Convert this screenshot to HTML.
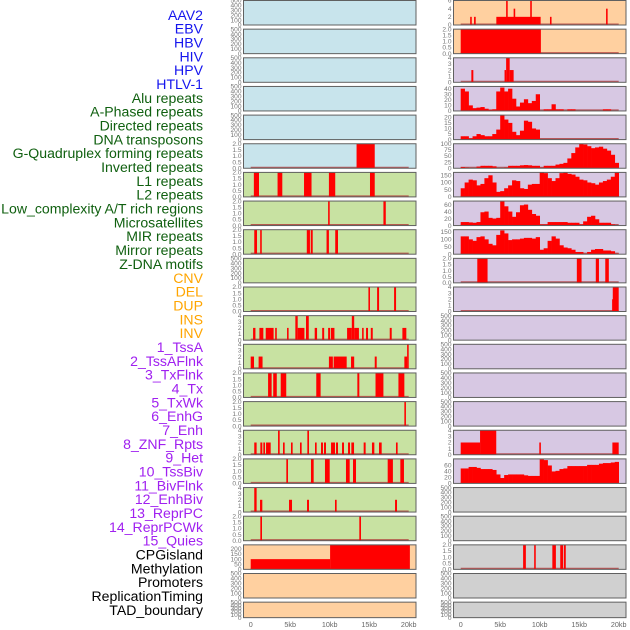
<!DOCTYPE html>
<html><head><meta charset="utf-8"><style>
body{margin:0;background:#fff;width:630px;height:630px;overflow:hidden}
svg{display:block}
</style></head><body>
<svg id="chart" width="630" height="630" xmlns="http://www.w3.org/2000/svg" font-family="Liberation Sans, sans-serif"></svg>
<script>
// ---- labels ----
const trackLabels=["AAV2","EBV","HBV","HIV","HPV","HTLV-1","Alu repeats","A-Phased repeats","Directed repeats","DNA transposons","G-Quadruplex forming repeats","Inverted repeats","L1 repeats","L2 repeats","Low_complexity A/T rich regions","Microsatellites","MIR repeats","Mirror repeats","Z-DNA motifs","CNV","DEL","DUP","INS","INV","1_TssA","2_TssAFlnk","3_TxFlnk","4_Tx","5_TxWk","6_EnhG","7_Enh","8_ZNF_Rpts","9_Het","10_TssBiv","11_BivFlnk","12_EnhBiv","13_ReprPC","14_ReprPCWk","15_Quies","CPGisland","Methylation","Promoters","ReplicationTiming","TAD_boundary"];
const labelGroups=["v","v","v","v","v","v","r","r","r","r","r","r","r","r","r","r","r","r","r","c","c","c","c","c","h","h","h","h","h","h","h","h","h","h","h","h","h","h","h","k","k","k","k","k"];
const xTicks=[0,5,10,15,20];
const xTickLabels=["0","5kb","10kb","15kb","20kb"];
// ---- bar data [startKb,endKb,value] ----
const leftG4Bars=[[13.4,15.7,2]];
const leftInvertedBars=[[0.4,1.05,2],[3.4,4.0,2],[6.75,7.7,2],[9.9,10.7,2],[15.1,15.7,2]];
const leftL2Bars=[[9.8,10.0,2],[16.8,17.1,2]];
const leftMicroBars=[[0.45,0.8,2],[1.2,1.4,2],[7.1,7.5,2],[7.6,7.85,2],[9.6,9.9,2],[10.7,11.05,2]];
const leftZdnaBars=[[14.9,15.1,2],[16.0,16.25,2],[18.15,18.4,2]];
const leftCnvBars=[[0.3,0.6,2],[1.1,1.6,2],[1.9,2.9,2],[3.1,3.3,2],[4.6,4.8,2],[5.65,5.95,4],[5.95,6.8,2],[7.0,7.35,4],[8.1,8.4,2],[9.05,9.3,2],[9.8,10.05,2],[10.15,10.6,2],[12.2,12.8,2],[12.8,13.1,4],[13.1,13.7,2],[14.1,14.3,2],[14.6,14.85,2],[15.2,15.45,2],[17.6,17.85,2],[19.2,19.7,2]];
const leftDelBars=[[0.0,0.42,2],[1.0,1.5,2],[9.9,10.4,2],[10.5,12.15,2],[12.7,13.1,2],[15.7,15.95,2],[19.45,19.8,2],[19.8,20.0,4]];
const leftDupBars=[[2.2,2.65,2],[2.85,3.3,2],[3.8,4.5,2],[8.3,8.85,2],[13.5,13.75,2],[15.8,16.8,2],[18.7,19.45,2]];
const leftInsBars=[[19.45,19.65,2]];
const leftInvBars=[[0.45,0.75,2],[1.22,1.47,2],[1.6,1.81,2],[1.94,2.53,2],[3.46,3.67,4],[4.09,4.3,2],[5.1,5.31,2],[6.24,6.45,2],[7.17,7.38,4],[8.14,8.35,2],[8.9,9.15,2],[9.28,9.53,2],[10.17,10.67,2],[10.8,11.05,2],[11.56,11.81,2],[12.32,12.57,2],[12.74,13.08,2],[14.3,14.55,2],[15.35,15.65,2],[16.24,16.58,2],[18.39,18.6,2]];
const leftTssABars=[[4.51,4.72,2],[7.63,7.97,2],[9.4,10.0,2],[12.06,12.53,2],[12.95,13.33,2],[17.34,18.0,2],[18.94,19.4,2]];
const leftTssAFlnkBars=[[0.45,0.75,4],[1.18,1.47,2],[4.85,5.23,2],[7.13,7.38,2],[10.67,10.88,2],[18.27,18.52,2]];
const leftTxFlnkBars=[[1.22,1.43,2],[13.75,13.96,2]];
const leftTxBars=[[0,10.05,100],[10.05,20.15,240]];
const rightAav2Bars=[[1.2,1.4,2],[1.69,1.9,2],[4.51,10.12,2],[5.75,5.95,6],[6.7,6.9,4],[8.8,9.0,6],[11.3,11.5,2],[18.4,18.6,4]];
const rightEbvBars=[[0,10.15,2]];
const rightHivBars=[[1.35,1.6,2],[5.55,5.75,2],[5.75,6.2,4],[6.2,6.7,2]];
const rightMicroBars=[[2.1,3.4,2],[14.7,15.3,2],[17.1,17.5,2],[18.3,18.75,2]];
const rightMirrorBars=[[19.15,19.25,2],[19.25,20.0,4]];
const rightHetBars=[[0,2.45,2],[2.45,4.5,4],[9.95,10.15,2],[19.2,20.0,2]];
const rightCpgBars=[[7.9,8.25,2],[9.3,9.5,2],[11.6,12.05,2],[12.6,12.95,2],[13.05,13.3,2]];
// ---- binned data (0.5 kb bins from 0 to 20 kb) ----
const aluBins=[40,35,10,5,6,7,4,2,3,35,42,35,40,22,8,15,21,14,18,30,0,3,3,12,3,3,0,3,3,0,0,0,0,0,0,0,3,3,0,0];
const aPhasedBins=[3,3,1,3,5,4,3,3,5,9,22,18,15,7,4,8,17,16,10,9,0,0,0,0,0,0,0,0,0,0,0,0,0,0,0,0,0,0,0,0];
const g4Bins=[5,3,0,0,7,10,10,10,8,0,0,3,10,10,10,12,13,12,10,10,3,10,10,10,15,18,22,40,62,85,100,97,90,82,85,88,80,72,55,22];
const l1Bins=[60,100,120,115,80,90,130,150,100,35,40,60,80,115,110,60,55,85,90,90,170,165,130,110,130,165,170,160,155,140,120,115,100,95,85,100,110,120,140,170];
const lowCompBins=[10,10,9,8,10,38,40,22,20,22,70,55,40,25,38,58,60,45,33,28,3,3,10,10,10,10,10,8,8,8,3,12,25,28,18,8,8,8,3,0];
const mirBins=[120,120,100,90,115,120,100,70,60,130,160,140,95,100,100,105,110,110,105,115,30,40,90,120,105,60,45,40,30,15,15,3,15,30,35,35,25,25,20,5];
const tssBivBins=[50,50,55,55,52,48,48,48,45,30,18,28,30,30,30,30,27,25,25,25,80,78,60,40,42,48,50,58,58,58,58,58,62,62,62,66,68,68,70,72];
// ---- tick sets ----
const tick500=[0,100,200,300,400,500];
const tick2=[0,0.5,1,1.5,2];
const tick4=[0,1,2,3,4];
const tick6=[0,2,4,6];
const tick40=[0,10,20,30,40];
const tick20=[0,5,10,15,20];
const tick100=[0,25,50,75,100];
const tick150=[0,50,100,150];
const tick60=[0,20,40,60];
const tick200=[0,50,100,150,200];

const BLUE="#c8e4ec",GREEN="#c8e2a2",ORANGE="#ffd0a0",PURPLE="#d7c8e3",GRAY="#d0d0d0";
const panels=[
 {col:0,row:0,bg:BLUE,max:500,ticks:tick500},
 {col:0,row:1,bg:BLUE,max:500,ticks:tick500},
 {col:0,row:2,bg:BLUE,max:500,ticks:tick500},
 {col:0,row:3,bg:BLUE,max:500,ticks:tick500},
 {col:0,row:4,bg:BLUE,max:500,ticks:tick500},
 {col:0,row:5,bg:BLUE,max:2,ticks:tick2,dec:1,bars:leftG4Bars},
 {col:0,row:6,bg:GREEN,max:2,ticks:tick2,dec:1,bars:leftInvertedBars},
 {col:0,row:7,bg:GREEN,max:2,ticks:tick2,dec:1,bars:leftL2Bars},
 {col:0,row:8,bg:GREEN,max:2,ticks:tick2,dec:1,bars:leftMicroBars},
 {col:0,row:9,bg:GREEN,max:500,ticks:tick500},
 {col:0,row:10,bg:GREEN,max:2,ticks:tick2,dec:1,bars:leftZdnaBars},
 {col:0,row:11,bg:GREEN,max:4,ticks:tick4,bars:leftCnvBars},
 {col:0,row:12,bg:GREEN,max:4,ticks:tick4,bars:leftDelBars},
 {col:0,row:13,bg:GREEN,max:2,ticks:tick2,dec:1,bars:leftDupBars},
 {col:0,row:14,bg:GREEN,max:2,ticks:tick2,dec:1,bars:leftInsBars},
 {col:0,row:15,bg:GREEN,max:4,ticks:tick4,bars:leftInvBars},
 {col:0,row:16,bg:GREEN,max:2,ticks:tick2,dec:1,bars:leftTssABars},
 {col:0,row:17,bg:GREEN,max:4,ticks:tick4,bars:leftTssAFlnkBars},
 {col:0,row:18,bg:GREEN,max:2,ticks:tick2,dec:1,bars:leftTxFlnkBars},
 {col:0,row:19,bg:ORANGE,max:240,ticks:tick200,bars:leftTxBars},
 {col:0,row:20,bg:ORANGE,max:500,ticks:tick500},
 {col:0,row:21,bg:ORANGE,max:500,ticks:tick500},
 {col:1,row:0,bg:ORANGE,max:6,ticks:tick6,bars:rightAav2Bars},
 {col:1,row:1,bg:ORANGE,max:2,ticks:tick2,dec:1,bars:rightEbvBars},
 {col:1,row:2,bg:PURPLE,max:4,ticks:tick4,bars:rightHivBars},
 {col:1,row:3,bg:PURPLE,max:44,ticks:tick40,bins:aluBins},
 {col:1,row:4,bg:PURPLE,max:22,ticks:tick20,bins:aPhasedBins},
 {col:1,row:5,bg:PURPLE,max:100,ticks:tick100,bins:g4Bins},
 {col:1,row:6,bg:PURPLE,max:170,ticks:tick150,bins:l1Bins},
 {col:1,row:7,bg:PURPLE,max:70,ticks:tick60,bins:lowCompBins},
 {col:1,row:8,bg:PURPLE,max:165,ticks:tick150,bins:mirBins},
 {col:1,row:9,bg:PURPLE,max:2,ticks:tick2,dec:1,bars:rightMicroBars},
 {col:1,row:10,bg:PURPLE,max:4,ticks:tick4,bars:rightMirrorBars},
 {col:1,row:11,bg:PURPLE,max:500,ticks:tick500},
 {col:1,row:12,bg:PURPLE,max:500,ticks:tick500},
 {col:1,row:13,bg:PURPLE,max:500,ticks:tick500},
 {col:1,row:14,bg:PURPLE,max:500,ticks:tick500},
 {col:1,row:15,bg:PURPLE,max:4,ticks:tick4,bars:rightHetBars},
 {col:1,row:16,bg:PURPLE,max:82,ticks:tick60,bins:tssBivBins},
 {col:1,row:17,bg:GRAY,max:500,ticks:tick500},
 {col:1,row:18,bg:GRAY,max:500,ticks:tick500},
 {col:1,row:19,bg:GRAY,max:2,ticks:tick2,dec:1,bars:rightCpgBars},
 {col:1,row:20,bg:GRAY,max:500,ticks:tick500},
 {col:1,row:21,bg:GRAY,max:500,ticks:tick500}
];
const NS="http://www.w3.org/2000/svg";
const svg=document.getElementById("chart");
function mk(tag,attrs,parent){const e=document.createElementNS(NS,tag);for(const k in attrs)e.setAttribute(k,attrs[k]);(parent||svg).appendChild(e);return e;}
function xs(col,kb){return (col?460.7:250.7)+kb*7.9;}
function panelLeft(col){return col?453.5:243.5;}
const PW=172.5;
function panelTop(row){return 0.5+28.65*row;}
function panelH(row){return row===21?15.5:24.5;}

const groupColors={v:"#1515ee",r:"#106010",c:"#ffa500",h:"#a020f0",k:"#000000"};
trackLabels.forEach((t,i)=>{
 const el=mk("text",{x:203,y:15+13.84*i+4.8,"text-anchor":"end","font-size":"14.1",fill:groupColors[labelGroups[i]]});
 el.textContent=t;
 
 
});

panels.forEach(p=>{
 const L=panelLeft(p.col),T=panelTop(p.row),H=panelH(p.row),B=T+H;
 const g=mk("g",{});
 
 
 const bg=mk("rect",{x:L,y:T,width:PW,height:H,fill:p.bg},g);
 
 
 const ys=v=>B-v/p.max*H;
 if(p.bars||p.bins){
  const base=mk("line",{x1:xs(p.col,0),x2:xs(p.col,20),y1:B-0.8,y2:B-0.8,stroke:"#b03a3a","stroke-width":1.5,opacity:0.8},g);
  
  
 }
 if(p.bars){p.bars.forEach(b=>{
  const r=mk("rect",{x:xs(p.col,b[0]),y:ys(b[2]),width:Math.max(0.8,xs(p.col,b[1])-xs(p.col,b[0])),height:B-ys(b[2]),fill:"#ff0000"},g);
  
  
 });}
 if(p.bins){p.bins.forEach((v,i)=>{
  if(v<=0)return;
  const r=mk("rect",{x:xs(p.col,i*0.5),y:ys(v),width:xs(p.col,(i+1)*0.5)-xs(p.col,i*0.5)+0.3,height:B-ys(v),fill:"#ff0000"},g);
  
  
 });}
 const bd=mk("rect",{x:L,y:T,width:PW,height:H,fill:"none",stroke:"#606060","stroke-width":1},g);
 
 
 p.ticks.forEach(t=>{
  const tx=mk("text",{x:L-2,y:ys(t)+2.2,"text-anchor":"end","font-size":"6.6",fill:"#777"},g);
  tx.textContent=p.dec?t.toFixed(1):String(t);
  
  
 });
});
[0,1].forEach(col=>{
 xTicks.forEach((t,i)=>{
  const tx=mk("text",{x:xs(col,t),y:627,"text-anchor":"middle","font-size":"7.2",fill:"#666"});
  tx.textContent=xTickLabels[i];
  
  
 });
});
</script>
</body></html>
